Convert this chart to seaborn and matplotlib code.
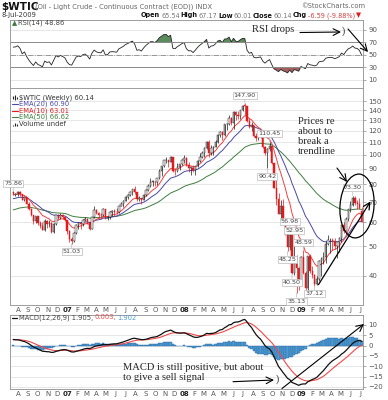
import matplotlib
matplotlib.use("Agg")
import matplotlib.pyplot as plt
import matplotlib.dates as mdates
from matplotlib.patches import Ellipse
from matplotlib.ticker import FixedLocator, FixedFormatter, NullLocator
import seaborn as sns
import pandas as pd
import numpy as np

sns.set_theme(style="white")
plt.rcParams["font.family"] = ["DejaVu Sans"]

FIG_W, FIG_H = 388, 400
SERIF = "Liberation Serif"
GRID = "#e3e3e3"
FRAME = "#9c9c9c"
TICK = "#555555"
RED = "#e3191b"
BLUE = "#4848a8"
GREEN = "#3f7f3f"

#%% weekly bars of $WTIC, first week starts 17-Jul-2006
first_week = "2006-07-17"
opens = [
    75.6, 74.0, 74.6, 75.6, 74.35, 71.14, 72.5, 69.2, 66.25, 63.33, 60.55, 62.9, 59.76, 58.57, 56.82, 60.75,
    59.14, 59.58, 55.81, 59.24, 63.43, 62.03, 63.43, 62.41,
    # 2007
    61.05, 56.31, 52.99, 52.24, 55.42, 59.02, 59.89, 59.39, 61.14, 61.64, 60.05, 57.11, 62.28, 65.87, 64.28, 63.63,
    63.38, 66.46, 61.93, 62.37, 64.94, 65.20, 65.08, 64.76, 68.00, 69.18, 70.68, 72.81, 73.93, 75.57, 77.02, 75.48,
    71.47, 71.98, 71.09, 74.04, 76.70, 79.10, 81.62, 81.66, 81.22, 83.69, 88.60, 91.86, 95.93, 96.32, 95.10, 98.18,
    88.71, 88.28, 91.27, 93.31,
    # 2008
    96.00, 97.91, 92.69, 90.57, 90.71, 88.96, 91.77, 95.50, 98.81, 101.84, 105.15, 110.21, 101.84, 105.62, 106.23, 110.14,
    116.69, 118.52, 116.32, 125.96, 126.29, 132.19, 127.35, 138.54, 134.86, 134.62, 140.21, 145.29, 145.08, 128.88, 123.26, 125.10,
    115.20, 113.77, 114.59, 115.46, 106.23, 101.18, 104.55, 106.89, 93.88, 77.70, 71.85, 64.15, 67.81, 61.04, 57.04, 49.93,
    54.43, 40.81, 46.28, 42.36,
    # 2009
    37.71, 46.34, 40.83, 36.51, 46.47, 41.68, 40.17, 37.51, 38.94, 44.76, 45.52, 46.25, 51.06, 52.38, 52.51, 52.24,
    50.33, 51.55, 53.20, 58.63, 56.34, 61.67, 66.31, 68.44, 72.04, 69.55, 69.16, 65.54,
]
highs = [
    75.86, 75.2, 76.0, 76.2, 74.6, 73.2, 72.8, 69.8, 66.9, 63.5, 63.2, 63.0, 60.6, 60.0, 61.6, 60.9,
    61.3, 60.0, 59.8, 63.6, 63.9, 64.2, 64.0, 62.6,
    61.3, 56.7, 53.7, 56.0, 59.1, 60.4, 60.2, 61.6, 62.3, 62.2, 60.3, 62.5, 68.1, 66.4, 64.9, 64.5,
    66.8, 66.6, 63.0, 65.4, 66.1, 66.4, 67.0, 68.1, 69.8, 71.1, 73.0, 74.2, 76.0, 77.2, 78.8, 75.6,
    73.2, 72.4, 74.5, 77.0, 80.4, 83.9, 83.0, 81.9, 84.1, 90.1, 92.2, 96.2, 98.6, 96.5, 99.3, 98.2,
    90.6, 94.3, 93.4, 97.0,
    100.1, 98.2, 94.5, 91.0, 93.0, 91.8, 96.0, 101.3, 103.1, 106.0, 111.0, 111.8, 107.6, 106.8, 112.2, 117.0,
    120.0, 119.9, 126.2, 127.8, 135.1, 133.1, 139.1, 139.9, 139.9, 140.4, 145.9, 147.90, 145.2, 132.3, 128.0, 125.5,
    118.3, 119.0, 119.0, 118.0, 107.2, 105.5, 110.45, 107.6, 94.1, 83.8, 75.0, 71.2, 71.8, 62.2, 57.4, 56.98,
    54.6, 52.95, 47.0, 42.9,
    46.5, 48.59, 41.5, 46.5, 47.4, 43.0, 40.5, 40.0, 45.0, 46.0, 48.0, 52.0, 54.7, 53.5, 53.4, 53.2,
    51.8, 53.9, 58.8, 60.1, 62.3, 66.4, 70.3, 73.30, 73.0, 71.0, 72.0, 67.17,
]
lows = [
    73.8, 73.0, 73.5, 73.2, 70.9, 70.4, 68.9, 65.8, 63.0, 59.5, 59.9, 58.9, 57.5, 56.6, 56.3, 57.4,
    57.9, 55.4, 55.5, 59.0, 60.9, 61.4, 61.6, 60.8,
    55.1, 51.9, 51.03, 51.9, 55.0, 57.1, 57.2, 58.6, 60.5, 59.3, 56.6, 56.9, 61.9, 63.7, 61.9, 61.5,
    63.1, 61.4, 60.9, 61.6, 63.2, 62.8, 63.9, 64.6, 67.8, 67.2, 70.3, 71.6, 73.0, 73.9, 74.6, 70.5,
    70.8, 69.0, 70.9, 73.3, 76.2, 78.6, 79.1, 79.0, 79.9, 83.4, 85.3, 91.2, 93.8, 91.2, 94.8, 88.1,
    86.2, 87.6, 89.1, 92.6,
    94.2, 91.9, 88.2, 86.1, 87.9, 86.0, 91.1, 94.7, 97.5, 98.6, 104.3, 98.7, 99.6, 99.6, 105.9, 109.2,
    114.5, 111.7, 115.5, 121.0, 125.5, 125.8, 122.0, 130.2, 131.3, 131.6, 139.1, 135.1, 128.2, 122.8, 119.9, 114.6,
    111.3, 112.3, 113.8, 105.5, 100.1, 90.42, 103.2, 93.2, 77.6, 68.6, 63.7, 61.3, 60.4, 54.7, 48.25, 48.5,
    40.50, 40.3, 35.13, 35.9,
    37.2, 40.5, 35.8, 36.0, 40.9, 39.4, 37.12, 37.3, 38.5, 40.0, 43.7, 44.0, 50.6, 47.6, 48.5, 49.0,
    45.9, 48.0, 51.8, 55.5, 56.1, 60.6, 64.9, 67.7, 68.6, 66.5, 66.4, 60.01,
]
closes = [
    74.4, 74.6, 75.6, 74.35, 71.14, 72.51, 69.20, 66.25, 63.33, 60.55, 62.91, 59.76, 58.57, 56.82, 60.75, 59.14,
    59.58, 55.81, 59.24, 63.43, 62.03, 63.43, 62.41, 61.05,
    56.31, 52.99, 52.24, 55.42, 59.02, 59.89, 59.39, 61.14, 61.64, 60.05, 57.11, 62.28, 65.87, 64.28, 63.63, 63.38,
    66.46, 61.93, 62.37, 64.94, 65.20, 65.08, 64.76, 68.00, 69.18, 70.68, 72.81, 73.93, 75.57, 77.02, 75.48, 71.47,
    71.98, 71.09, 74.04, 76.70, 79.10, 81.62, 81.66, 81.22, 83.69, 88.60, 91.86, 95.93, 96.32, 95.10, 98.18, 88.71,
    88.28, 91.27, 93.31, 96.00,
    97.91, 92.69, 90.57, 90.71, 88.96, 91.77, 95.50, 98.81, 101.84, 105.15, 110.21, 101.84, 105.62, 106.23, 110.14, 116.69,
    118.52, 116.32, 125.96, 126.29, 132.19, 127.35, 138.54, 134.86, 134.62, 140.21, 145.29, 145.08, 128.88, 123.26, 125.10, 115.20,
    113.77, 114.59, 115.46, 106.23, 101.18, 104.55, 106.89, 93.88, 77.70, 71.85, 64.15, 67.81, 61.04, 57.04, 49.93, 54.43,
    40.81, 46.28, 42.36, 37.71,
    46.34, 40.83, 36.51, 46.47, 41.68, 40.17, 37.51, 38.94, 44.76, 45.52, 46.25, 51.06, 52.38, 52.51, 52.24, 50.33,
    51.55, 53.20, 58.63, 56.34, 61.67, 66.31, 68.44, 72.04, 69.55, 69.16, 66.73, 60.14,
]

# swing points that carry a price box on the chart
peak_highs = [75.86, 147.90, 110.45, 56.98, 52.95, 48.59, 73.30]
peak_lows = [51.03, 90.42, 48.25, 40.50, 35.13, 37.12]

# indicator state at the left edge
ema_seeds = {10: 73.8, 20: 71.5, 50: 65.6}
macd_seeds = {"fast": 73.2, "slow": 70.1, "signal": 2.8}
rsi_seed = {"gain": 1.0, "loss": 0.6}

price_ticks = [40, 50, 60, 70, 80, 90, 100, 110, 120, 130, 140, 150]
rsi_ticks = [10, 30, 50, 70, 90]
macd_ticks = [10, 5, 0, -5, -10, -15, -20]


def ema(values, seed, n):
    a = 2 / (n + 1)
    out, e = [], seed
    for v in values:
        e = e + a * (v - e)
        out.append(e)
    return np.array(out)


def wilder_rsi(values, gain, loss, n=14):
    out = [100 * gain / (gain + loss)]
    for prev, cur in zip(values[:-1], values[1:]):
        d = cur - prev
        gain = (gain * (n - 1) + max(d, 0)) / n
        loss = (loss * (n - 1) + max(-d, 0)) / n
        out.append(100 * gain / (gain + loss))
    return np.array(out)


df = pd.DataFrame({
    "date": pd.date_range(first_week, periods=len(closes), freq="7D"),
    "open": opens, "high": highs, "low": lows, "close": closes,
})
for n, seed in ema_seeds.items():
    df[f"ema{n}"] = ema(closes, seed, n)
df["macd"] = ema(closes, macd_seeds["fast"], 12) - ema(closes, macd_seeds["slow"], 26)
df["signal"] = ema(df["macd"], macd_seeds["signal"], 9)
df["hist"] = df["macd"] - df["signal"]
df["rsi"] = wilder_rsi(closes, rsi_seed["gain"], rsi_seed["loss"])

#%% layout in pixels of the 388x400 picture
fig = plt.figure(figsize=(FIG_W / 100, FIG_H / 100), dpi=100)
fig.patch.set_facecolor("white")


def box(top, bottom, left=10, right=363):
    return [left / FIG_W, 1 - bottom / FIG_H, (right - left) / FIG_W, (bottom - top) / FIG_H]


ax_rsi = fig.add_axes(box(20, 88))
ax_px = fig.add_axes(box(88, 305), sharex=ax_rsi)
ax_macd = fig.add_axes(box(315, 389), sharex=ax_rsi)

x = mdates.date2num(df["date"])

# RSI
sns.lineplot(data=df, x="date", y="rsi", color="#222222", lw=0.6, ax=ax_rsi, legend=False)
ax_rsi.fill_between(df["date"], df["rsi"], 70, where=df["rsi"] > 70, interpolate=True, color="#5b8c5b", lw=0)
ax_rsi.fill_between(df["date"], df["rsi"], 30, where=df["rsi"] < 30, interpolate=True, color="#a65f5f", lw=0)
ax_rsi.axhline(70, color="#8a8a8a", lw=0.7)
ax_rsi.axhline(30, color="#8a8a8a", lw=0.7)
ax_rsi.axhline(50, color="#8a8a8a", lw=0.6, ls="-.")
ax_rsi.set_ylim(-3, 106)
ax_rsi.yaxis.set_major_locator(FixedLocator(rsi_ticks))

# price: EMAs then candles
sns.lineplot(data=df, x="date", y="ema50", color=GREEN, lw=0.7, ax=ax_px, legend=False)
sns.lineplot(data=df, x="date", y="ema20", color=BLUE, lw=0.7, ax=ax_px, legend=False)
sns.lineplot(data=df, x="date", y="ema10", color="#f04040", lw=0.7, ax=ax_px, legend=False)

prev_close = df["close"].shift(1).fillna(df["open"])
bar_col = np.where(df["close"] < prev_close, RED, "#1a1a1a")
hollow = (df["close"] >= df["open"]).to_numpy()
body_lo = np.minimum(df["open"], df["close"])
body_h = np.maximum(np.abs(df["close"] - df["open"]), body_lo * 0.004)
ax_px.vlines(x, df["low"], df["high"], colors=bar_col, lw=0.5, zorder=3)
ax_px.bar(x, body_h, bottom=body_lo, width=4.2, color=np.where(hollow, "#f4f4f4", bar_col),
          edgecolor=bar_col, lw=0.35, zorder=4)

for v in peak_highs:
    i = highs.index(v)
    ax_px.annotate(f"{v:.2f}", (x[i], v), xytext=(0, 8), textcoords="offset pixels", ha="center", va="center",
                   fontsize=4.6, color="#444444", zorder=6,
                   bbox=dict(boxstyle="square,pad=0.15", fc="white", ec="#bbbbbb", lw=0.5),
                   arrowprops=dict(arrowstyle="-", color="#bbbbbb", lw=0.5, shrinkA=0, shrinkB=0))
for v in peak_lows:
    i = lows.index(v)
    ax_px.annotate(f"{v:.2f}", (x[i], v), xytext=(0, -8), textcoords="offset pixels", ha="center", va="center",
                   fontsize=4.6, color="#444444", zorder=6,
                   bbox=dict(boxstyle="square,pad=0.15", fc="white", ec="#bbbbbb", lw=0.5),
                   arrowprops=dict(arrowstyle="-", color="#bbbbbb", lw=0.5, shrinkA=0, shrinkB=0))

ax_px.set_yscale("log")
ax_px.set_ylim(32.1, 166)
ax_px.yaxis.set_major_locator(FixedLocator(price_ticks))
ax_px.yaxis.set_major_formatter(FixedFormatter([str(t) for t in price_ticks]))
ax_px.yaxis.set_minor_locator(NullLocator())

# MACD
ax_macd.bar(x, df["hist"], width=7, color="#4f9ad0", edgecolor="#2a6aa6", lw=0.3, zorder=2)
sns.lineplot(data=df, x="date", y="signal", color="#f04848", lw=0.8, ax=ax_macd, legend=False, zorder=3)
sns.lineplot(data=df, x="date", y="macd", color="#111111", lw=0.9, ax=ax_macd, legend=False, zorder=4)
ax_macd.set_ylim(-21, 14.8)
ax_macd.yaxis.set_major_locator(FixedLocator(macd_ticks))

# shared time axis: month letters, quarterly grid
months = pd.date_range("2006-08-01", "2009-07-01", freq="MS")
month_labels = [f"{d.year % 100:02d}" if d.month == 1 else d.strftime("%b")[0] for d in months]
quarters = pd.date_range("2006-10-01", "2009-07-01", freq="QS-JAN")
ax_px.set_xlim(pd.Timestamp("2006-07-07"), pd.Timestamp("2009-07-10"))
ax_px.set_xticks(months, labels=month_labels)
ax_px.set_xticks(quarters, minor=True)

for ax in (ax_rsi, ax_px, ax_macd):
    ax.set_xlabel("")
    ax.set_ylabel("")
    ax.yaxis.tick_right()
    ax.tick_params(axis="y", labelsize=5, labelcolor=TICK, color="#888888", length=2, width=0.5, pad=2)
    ax.tick_params(axis="x", which="both", length=0, labelsize=5, labelcolor=TICK, pad=1.5)
    ax.grid(which="minor", axis="x", color=GRID, lw=0.6)
    ax.grid(which="major", axis="y", color=GRID, lw=0.6)
    ax.set_axisbelow(True)
    for s in ax.spines.values():
        s.set_color(FRAME)
        s.set_linewidth(0.7)
    for lab in ax.get_xticklabels():
        if lab.get_text().isdigit():
            lab.set_fontweight("bold")
            lab.set_color("#222222")
ax_rsi.tick_params(axis="x", labelbottom=False)

#%% overlay in picture pixels for titles, legends and hand-drawn notes
ov = fig.add_axes([0, 0, 1, 1], zorder=10)
ov.set_xlim(0, FIG_W)
ov.set_ylim(FIG_H, 0)
ov.axis("off")
ov.patch.set_alpha(0)
renderer = fig.canvas.get_renderer()


def chain(x0, y, parts, size=5.0, gap=1.5):
    for s, col, wt in parts:
        t = ov.text(x0, y, s, color=col, fontweight=wt, fontsize=size, ha="left", va="center")
        x0 += t.get_window_extent(renderer).width + gap


chain(1, 6.5, [("$WTIC", "#111111", "bold")], size=7.5)
chain(35, 6.5, [("(Oil - Light Crude - Continuous Contract (EOD)) INDX", "#666666", "normal")], size=4.9)
ov.text(365, 6, "©StockCharts.com", fontsize=4.9, color="#666666", ha="right", va="center")
ov.text(2, 15.5, "8-Jul-2009", fontsize=4.9, color="#333333", ha="left", va="center")
chain(141, 15.5, [("Open", "#111111", "bold"), ("65.54", "#777777", "normal"),
                  ("High", "#111111", "bold"), ("67.17", "#777777", "normal"),
                  ("Low", "#111111", "bold"), ("60.01", "#777777", "normal"),
                  ("Close", "#111111", "bold"), ("60.14", "#777777", "normal"),
                  ("Chg", "#111111", "bold"), ("-6.59 (-9.88%)", "#d04040", "normal"),
                  ("▼", RED, "normal")], size=4.7, gap=0.9)

chain(12, 23, [("▲", "#3c7a3c", "normal"), ("RSI(14) 48.86", "#444444", "normal")], size=4.9, gap=0.5)

ov.vlines([13, 15, 17], [96, 95, 96.5], [99, 100, 98.5], color="#222222", lw=0.8)
chain(19, 97.5, [("$WTIC (Weekly) 60.14", "#333333", "normal")], size=4.9)
for yy, col, txt in [(104, BLUE, "EMA(20) 60.90"), (110.5, RED, "EMA(10) 63.01"), (117, GREEN, "EMA(50) 66.62")]:
    ov.plot([12, 18], [yy, yy], color=col, lw=0.8)
    chain(19, yy, [(txt, col, "normal")], size=4.9)
ov.vlines([13, 15, 17], [124.5, 122.5, 123.5], [126, 126, 126], color="#222222", lw=0.8)
chain(19, 124, [("Volume undef", "#333333", "normal")], size=4.9)

ov.plot([12, 17], [317.5, 317.5], color="#111111", lw=0.9)
chain(19, 317.5, [("MACD(12,26,9) 1.905,", "#444444", "normal"), ("0.003,", "#f04848", "normal"),
                  ("1.902", "#4f9ad0", "normal")], size=4.9)

arrow = dict(arrowstyle="->", color="black", lw=0.8, shrinkA=0, shrinkB=0)
ov.text(252, 29.5, "RSI drops", family=SERIF, fontsize=7.6, ha="left", va="center")
ov.annotate("", xy=(341, 32), xytext=(300, 32.5), arrowprops=arrow)
ov.text(343, 31.5, ")", family=SERIF, fontsize=7, ha="center", va="center")
ov.annotate("", xy=(368, 52), xytext=(348, 29), arrowprops=arrow)

ov.text(298, 117, "Prices re\nabout to\nbreak a\ntrendline", family=SERIF, fontsize=7.6,
        ha="left", va="top", linespacing=1.15)
ov.annotate("", xy=(347, 182), xytext=(337, 168), arrowprops=arrow)
ov.add_patch(Ellipse((357, 206), 34, 64, angle=4.5, fill=False, lw=0.9, color="black"))
ov.annotate("", xy=(372, 199), xytext=(317, 287), arrowprops=dict(arrowstyle="->", color="black", lw=0.9))

ov.text(123, 372.5, "MACD is still positive, but about\nto give a sell signal", family=SERIF, fontsize=7.6,
        ha="left", va="center", linespacing=1.15)
ov.annotate("", xy=(274, 380), xytext=(233, 381.7), arrowprops=arrow)
ov.text(277, 379.5, ")", family=SERIF, fontsize=7, ha="center", va="center")
ov.annotate("", xy=(364, 324), xytext=(282, 388.5), arrowprops=arrow)

fig.savefig("out.png", dpi=100, facecolor="white")
